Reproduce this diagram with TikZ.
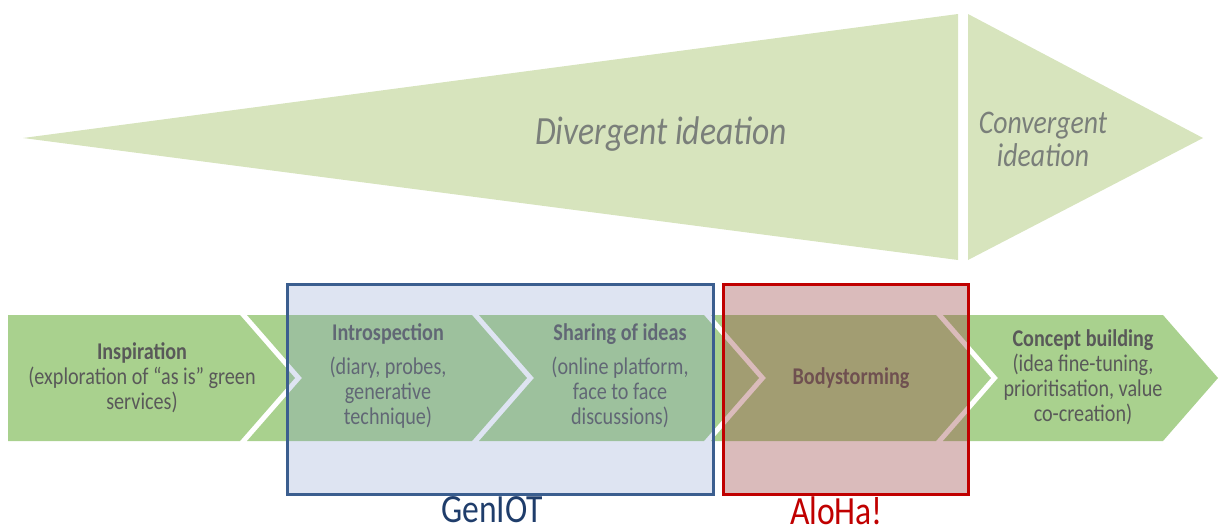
\documentclass[tikz,border=0pt]{standalone}
\usepackage{fontspec}
\setmainfont[FakeStretch=0.84]{Carlito}
\usetikzlibrary{positioning}
\definecolor{wedgegreen}{HTML}{D7E4BD}
\definecolor{chevgreen}{HTML}{A9D18E}
\definecolor{textgrey}{HTML}{595959}
\definecolor{ideagrey}{HTML}{7A7F7A}
\definecolor{genblue}{HTML}{3B5E8F}
\definecolor{genfill}{HTML}{7C94CC}
\definecolor{alohared}{HTML}{C00000}
\definecolor{alohafill}{HTML}{984242}
\definecolor{gennavy}{HTML}{1F3D6B}

\begin{document}
\begin{tikzpicture}[x=1pt,y=-1pt,
  wedge/.style={fill=wedgegreen},
  chev/.style={fill=chevgreen},
  idea/.style={text=ideagrey,font=\fontsize{#1}{33}\selectfont\itshape,align=center},
  stage/.style={text=textgrey,font=\fontsize{24}{25}\selectfont,align=center,inner sep=0pt},
  genbox/.style={draw=genblue,line width=3pt,fill=genfill,fill opacity=0.25,minimum width=426pt,minimum height=210pt,inner sep=0pt},
  alohabox/.style={draw=alohared,line width=3pt,fill=alohafill,fill opacity=0.36,minimum width=245pt,minimum height=210pt,inner sep=0pt},
  project/.style={font=\fontsize{40}{42}\selectfont,inner sep=0pt}]
  \useasboundingbox (0,0) rectangle (1219,528);

  \fill[wedge] (23,138) -- (958,14) -- (958,260) -- cycle;
  \fill[wedge] (968,14) -- (1203,138) -- (968,260) -- cycle;
  \node[idea=40] (div) at (661,134) {Divergent ideation};
  \node[idea=33] (conv) at (1043,139) {Convergent\\ideation};

  \foreach \i/\l/\r/\n in {1/8/240/0,2/247/472/55,3/479/704/55,4/711/936/55,5/943/1163/55}{
    \fill[chev] (\l,315) -- (\r,315) -- ++(55,63) -- (\r,441) -- (\l,441) -- ++(\n,-63) -- cycle;
  }

  \node[stage] (insp) at (142,378) {\textbf{Inspiration}\\(exploration of “as is” green\\services)};
  \node[stage] (intro) at (388,376) {\textbf{Introspection}\\[9pt](diary, probes,\\generative\\technique)};
  \node[stage] (share) at (620,376) {\textbf{Sharing of ideas}\\[9pt](online platform,\\face to face\\discussions)};
  \node[stage] (body) at (851,378) {\textbf{Bodystorming}};
  \node[stage] (conc) at (1083,377) {\textbf{Concept building}\\(idea fine-tuning,\\prioritisation, value\\co-creation)};

  \node[genbox] (gen) at (500,389) {};
  \node[alohabox] (aloha) at (845.5,389) {};
  \node[project,text=gennavy,below=1pt of gen,xshift=-8pt] (genlabel) {GenIOT};
  \node[project,text=alohared,below=1pt of aloha,xshift=-9pt] (alohalabel) {AloHa!};
\end{tikzpicture}
\end{document}
